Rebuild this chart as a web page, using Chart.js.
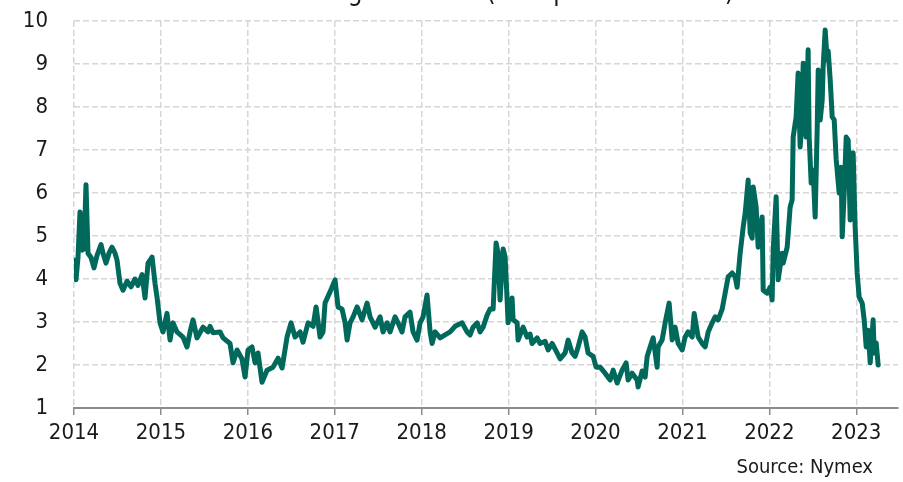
<!DOCTYPE html>
<html>
<head>
<meta charset="utf-8">
<script src="https://cdn.jsdelivr.net/npm/chart.js@4.4.1/dist/chart.umd.min.js"></script>
<style>
  html, body { margin: 0; padding: 0; background: #fff; }
  #wrap { width: 903px; height: 482px; position: relative; }
</style>
</head>
<body>
<div id="wrap"><canvas id="gas"></canvas></div>
<script>
const titleText = 'Natural gas futures (USD per million Btu)';
const sourceText = 'Source: Nymex';
const yearTicks = [2014, 2015, 2016, 2017, 2018, 2019, 2020, 2021, 2022, 2023];
const priceTicks = [1, 2, 3, 4, 5, 6, 7, 8, 9, 10];

// decimal year of each reading
const dates = [
  2014.000, 2014.023, 2014.046, 2014.069, 2014.092, 2014.115, 2014.138, 2014.161, 2014.196, 2014.230,
  2014.265, 2014.311, 2014.334, 2014.368, 2014.403, 2014.437, 2014.472, 2014.495, 2014.529, 2014.564,
  2014.610, 2014.656, 2014.702, 2014.736, 2014.783, 2014.817, 2014.852, 2014.898, 2014.932, 2014.955,
  2014.990, 2015.024, 2015.070, 2015.105, 2015.139, 2015.185, 2015.254, 2015.300, 2015.335, 2015.369,
  2015.415, 2015.484, 2015.542, 2015.565, 2015.600, 2015.680, 2015.715, 2015.795, 2015.830, 2015.876,
  2015.933, 2015.968, 2016.002, 2016.048, 2016.083, 2016.117, 2016.163, 2016.221, 2016.290, 2016.348,
  2016.394, 2016.451, 2016.497, 2016.543, 2016.601, 2016.635, 2016.693, 2016.750, 2016.785, 2016.831,
  2016.865, 2016.888, 2016.946, 2017.003, 2017.038, 2017.084, 2017.119, 2017.142, 2017.176, 2017.211,
  2017.257, 2017.314, 2017.372, 2017.406, 2017.464, 2017.521, 2017.556, 2017.602, 2017.636, 2017.694,
  2017.728, 2017.774, 2017.809, 2017.866, 2017.901, 2017.947, 2017.982, 2018.016, 2018.062, 2018.097,
  2018.120, 2018.154, 2018.212, 2018.269, 2018.327, 2018.384, 2018.465, 2018.522, 2018.557, 2018.591,
  2018.638, 2018.672, 2018.707, 2018.753, 2018.787, 2018.822, 2018.856, 2018.879, 2018.902, 2018.937,
  2018.960, 2018.983, 2018.994, 2019.040, 2019.052, 2019.098, 2019.109, 2019.167, 2019.213, 2019.247,
  2019.270, 2019.328, 2019.362, 2019.420, 2019.455, 2019.501, 2019.558, 2019.593, 2019.650, 2019.685,
  2019.731, 2019.765, 2019.800, 2019.846, 2019.880, 2019.915, 2019.972, 2020.007, 2020.053, 2020.110,
  2020.168, 2020.203, 2020.249, 2020.306, 2020.352, 2020.375, 2020.421, 2020.479, 2020.490, 2020.536,
  2020.571, 2020.594, 2020.628, 2020.663, 2020.709, 2020.720, 2020.766, 2020.801, 2020.847, 2020.882,
  2020.916, 2020.951, 2020.997, 2021.031, 2021.066, 2021.112, 2021.135, 2021.181, 2021.227, 2021.261,
  2021.296, 2021.342, 2021.376, 2021.411, 2021.457, 2021.491, 2021.526, 2021.572, 2021.607, 2021.629,
  2021.664, 2021.699, 2021.722, 2021.756, 2021.779, 2021.802, 2021.814, 2021.848, 2021.871, 2021.917,
  2021.929, 2021.975, 2022.009, 2022.032, 2022.044, 2022.078, 2022.101, 2022.147, 2022.159, 2022.205,
  2022.239, 2022.262, 2022.274, 2022.308, 2022.331, 2022.354, 2022.377, 2022.389, 2022.423, 2022.446,
  2022.458, 2022.481, 2022.504, 2022.527, 2022.550, 2022.562, 2022.585, 2022.608, 2022.619, 2022.642,
  2022.665, 2022.677, 2022.700, 2022.723, 2022.746, 2022.769, 2022.780, 2022.803, 2022.826, 2022.838,
  2022.861, 2022.884, 2022.907, 2022.930, 2022.953, 2022.964, 2022.987, 2023.010, 2023.033, 2023.068,
  2023.091, 2023.114, 2023.137, 2023.160, 2023.194, 2023.206, 2023.229, 2023.252
];

// Henry Hub front-month, USD per million Btu
const prices = [
  4.44, 3.98, 4.50, 5.56, 4.67, 4.70, 6.19, 4.60, 4.50, 4.26,
  4.55, 4.80, 4.60, 4.37, 4.60, 4.74, 4.60, 4.44, 3.90, 3.74,
  3.95, 3.82, 4.00, 3.85, 4.10, 3.56, 4.37, 4.51, 3.90, 3.58,
  2.98, 2.77, 3.20, 2.58, 2.98, 2.77, 2.65, 2.42, 2.77, 3.05,
  2.63, 2.88, 2.77, 2.90, 2.75, 2.77, 2.63, 2.50, 2.05, 2.35,
  2.14, 1.72, 2.35, 2.42, 2.05, 2.28, 1.60, 1.88, 1.95, 2.16,
  1.93, 2.65, 2.98, 2.65, 2.77, 2.53, 2.98, 2.90, 3.35, 2.65,
  2.77, 3.44, 3.70, 3.98, 3.35, 3.30, 2.98, 2.58, 2.98, 3.12,
  3.35, 3.05, 3.44, 3.12, 2.88, 3.12, 2.77, 2.98, 2.77, 3.12,
  2.98, 2.77, 3.12, 3.23, 2.77, 2.58, 2.98, 3.12, 3.63, 2.77,
  2.50, 2.77, 2.63, 2.70, 2.77, 2.90, 2.98, 2.77, 2.70, 2.88,
  2.98, 2.77, 2.88, 3.16, 3.30, 3.30, 4.84, 4.60, 3.51, 4.70,
  4.51, 3.51, 2.98, 3.56, 3.05, 2.98, 2.58, 2.88, 2.65, 2.72,
  2.50, 2.63, 2.50, 2.55, 2.35, 2.50, 2.28, 2.14, 2.28, 2.58,
  2.28, 2.20, 2.42, 2.77, 2.65, 2.28, 2.20, 1.95, 1.95, 1.81,
  1.65, 1.88, 1.58, 1.88, 2.05, 1.65, 1.81, 1.65, 1.49, 1.86,
  1.72, 2.20, 2.42, 2.63, 1.95, 2.42, 2.58, 2.98, 3.44, 2.58,
  2.88, 2.50, 2.35, 2.65, 2.77, 2.65, 3.20, 2.65, 2.50, 2.42,
  2.77, 2.98, 3.12, 3.05, 3.30, 3.67, 4.05, 4.14, 4.05, 3.81,
  4.60, 5.21, 5.53, 6.30, 5.07, 4.95, 6.14, 5.67, 4.74, 5.44,
  3.74, 3.67, 3.81, 3.51, 4.67, 5.91, 3.98, 4.60, 4.37, 4.74,
  5.67, 5.84, 7.30, 7.77, 8.79, 7.07, 7.70, 9.02, 7.30, 9.33,
  7.30, 6.23, 6.53, 5.44, 7.47, 8.86, 7.70, 8.16, 8.93, 9.79,
  9.09, 9.30, 8.63, 7.77, 7.70, 6.77, 6.53, 6.00, 6.60, 4.98,
  6.00, 7.30, 7.23, 5.37, 6.93, 6.93, 5.21, 4.14, 3.58, 3.44,
  3.05, 2.42, 2.81, 2.05, 3.05, 2.28, 2.51, 2.00
];

const points = dates.map((d, i) => ({ x: d, y: prices[i] }));

const fontFamily = '"DejaVu Sans Condensed", "DejaVu Sans", sans-serif';

const textPlugin = {
  id: 'textPlugin',
  afterDraw(chart) {
    const c = chart.ctx;
    c.save();
    c.fillStyle = '#1a1a1a';
    c.font = '26px ' + fontFamily;
    c.textAlign = 'center';
    c.textBaseline = 'alphabetic';
    c.fillText(titleText, 494, 0);
    c.font = '20px ' + fontFamily;
    c.textAlign = 'right';
    c.textBaseline = 'middle';
    c.fillText(sourceText, 873, 468);
    c.restore();
  }
};

const ctx = document.getElementById('gas').getContext('2d');

const gasChart = new Chart(ctx, {
  type: 'line',
  data: {
    datasets: [{
      label: 'Natural gas',
      data: points,
      borderColor: '#00695c',
      borderWidth: 5,
      borderJoinStyle: 'round',
      borderCapStyle: 'round',
      pointRadius: 0,
      fill: false,
      tension: 0
    }]
  },
  options: {
    responsive: true,
    maintainAspectRatio: false,
    animation: false,
    layout: { padding: { top: 21, right: 5, left: 0, bottom: 0 } },
    plugins: {
      legend: { display: false },
      tooltip: { enabled: false }
    },
    scales: {
      x: {
        type: 'linear',
        min: 2014,
        max: 2023.48,
        afterBuildTicks: s => { s.ticks = yearTicks.map(v => ({ value: v })); },
        afterFit: s => { s.height = 74; },
        border: { display: true, color: '#8c8c8c', width: 2, dash: [6, 3] },
        grid: {
          color: '#d6d6d6',
          lineWidth: 1.5,
          drawTicks: true,
          tickLength: 7,
          tickColor: '#8c8c8c',
          tickWidth: 1.5,
          tickBorderDash: []
        },
        ticks: {
          color: '#1a1a1a',
          font: { family: fontFamily, size: 22 },
          padding: 5,
          maxRotation: 0,
          callback: v => String(v)
        }
      },
      y: {
        min: 1,
        max: 10,
        afterBuildTicks: s => { s.ticks = priceTicks.map(v => ({ value: v })); },
        afterFit: s => { s.width = 74; s.paddingTop = 10; s.paddingBottom = 10; },
        border: { display: false, dash: [6, 3] },
        grid: {
          color: '#d6d6d6',
          lineWidth: 1.5,
          drawTicks: false
        },
        ticks: {
          color: '#1a1a1a',
          font: { family: fontFamily, size: 22 },
          padding: 26
        }
      }
    }
  },
  plugins: [textPlugin]
});
</script>
</body>
</html>
